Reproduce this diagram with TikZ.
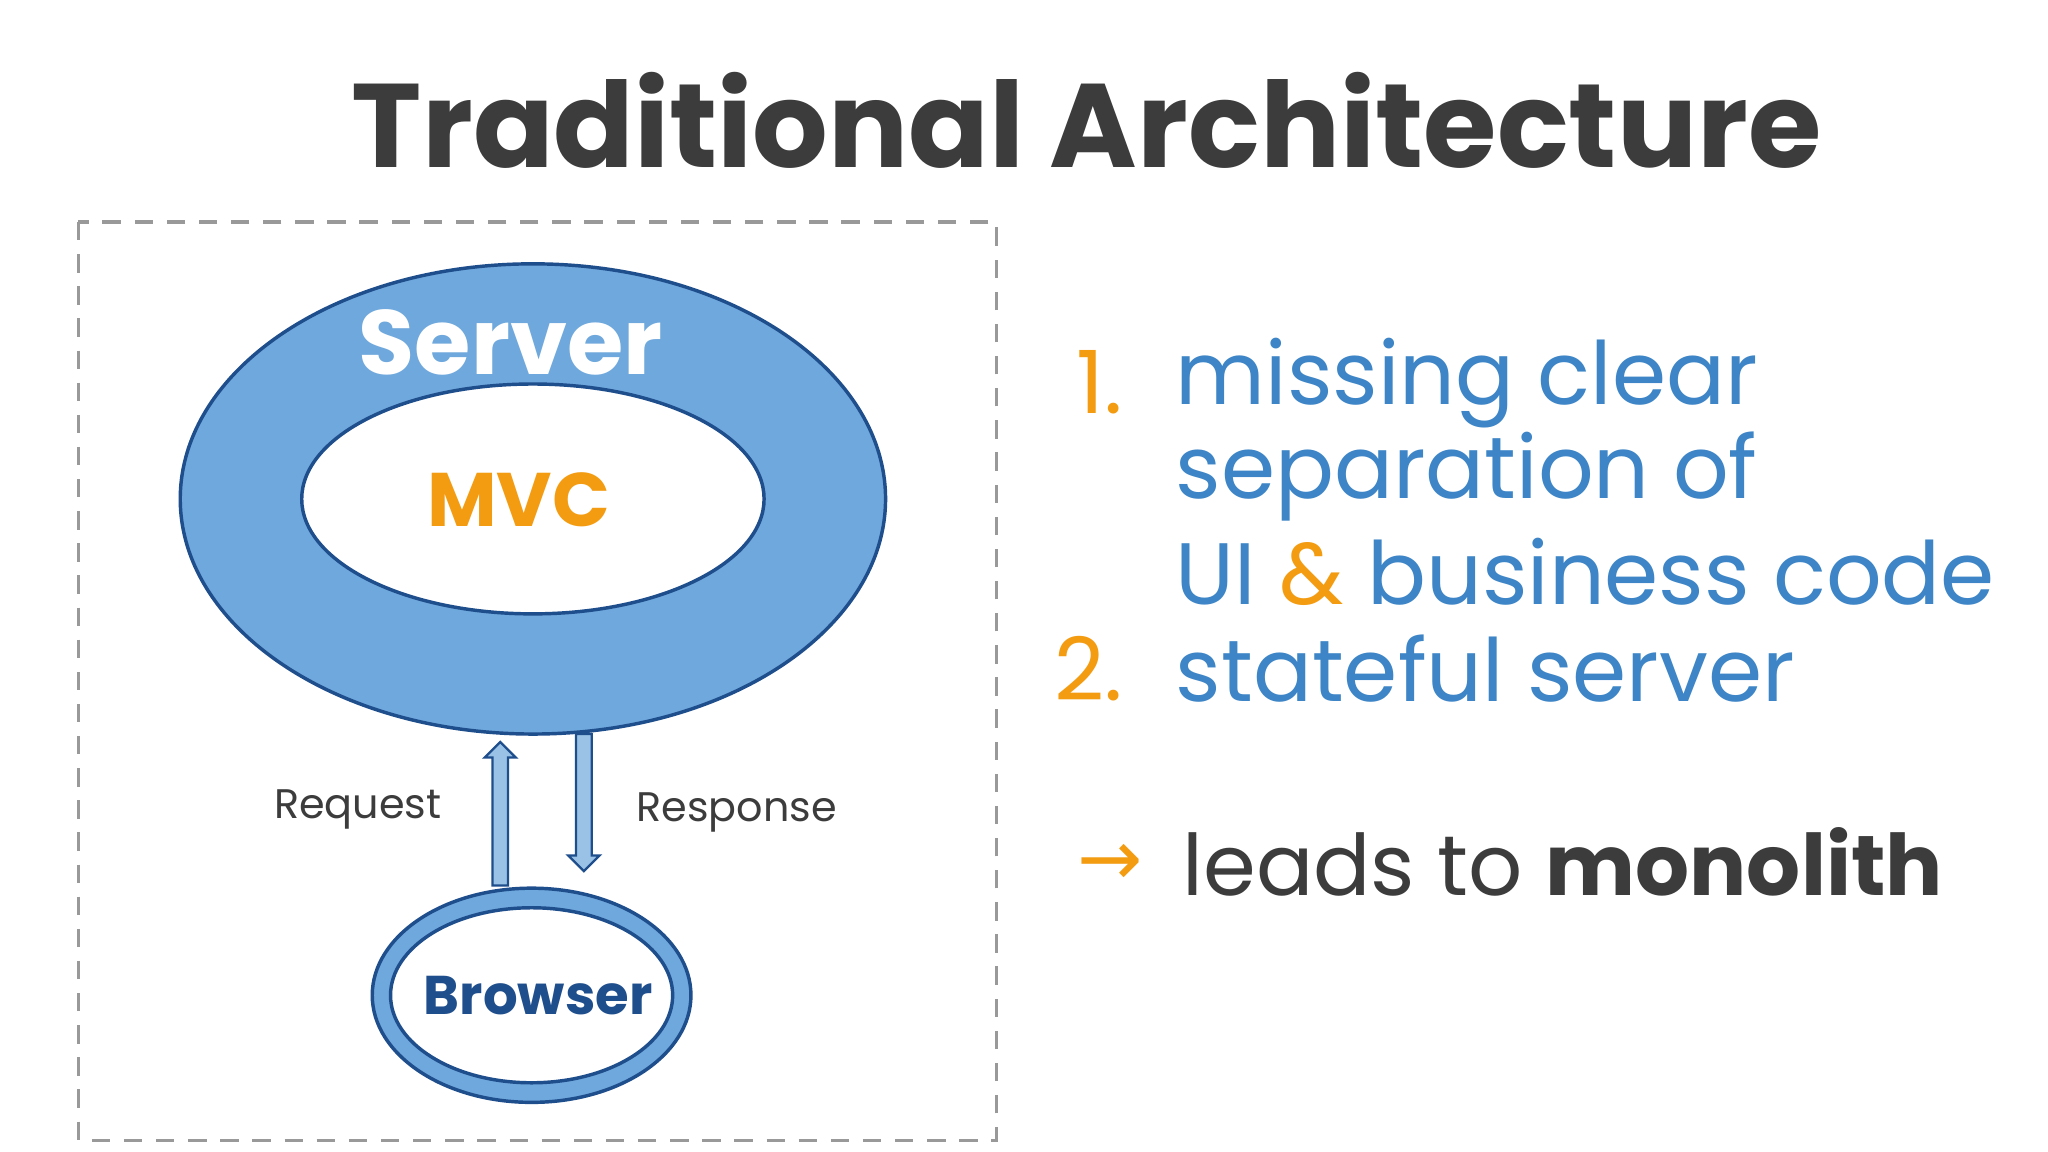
\documentclass[tikz,border=0pt]{standalone}
\usepackage{fontspec}
\setmainfont{Poppins}
\newfontfamily\symf{DejaVu Sans}
\definecolor{fillb}{HTML}{6FA8DC}
\definecolor{edgeb}{HTML}{1F4E8C}
\definecolor{txtb}{HTML}{3D85C6}
\definecolor{orng}{HTML}{F39C12}
\definecolor{dark}{HTML}{3C3C3C}
\tikzset{
  ring/.style={draw=edgeb,line width=1.5pt,fill=fillb},
  hole/.style={draw=edgeb,line width=1.5pt,fill=white},
  arr/.style={draw=edgeb,line width=1pt,fill=fillb!70},
  bt/.style={text=txtb,anchor=west,font=\fontsize{38}{44}\selectfont,inner sep=0pt},
  num/.style={text=orng,anchor=east,font=\fontsize{38}{44}\selectfont,inner sep=0pt},
}
\begin{document}
\begin{tikzpicture}[x=0.02cm,y=-0.02cm]
\useasboundingbox[fill=white] (0,0) rectangle (1568,882);
\node[text=dark,font=\bfseries] (title) at (832,92) {\resizebox{22.5cm}{!}{Traditional Architecture}};
\draw[gray!80,line width=1.5pt,dash pattern=on 8pt off 6pt] (60,170) rectangle (763,873);
\draw[ring] (408,382) ellipse [x radius=270,y radius=180];
\draw[hole] (408,382) ellipse [x radius=177,y radius=88];
\node[text=white,font=\bfseries] (server) at (391,262) {\resizebox{4.65cm}{!}{Server}};
\node[text=orng,font=\bfseries] (mvc) at (397,383) {\resizebox{2.8cm}{!}{MVC}};
% arrows
\draw[arr] (377,678) -- (377,580) -- (371,580) -- (383,568) -- (395,580) -- (389,580) -- (389,678) -- cycle;
\draw[arr] (441,562) -- (441,655) -- (435,655) -- (447,667) -- (459,655) -- (453,655) -- (453,562) -- cycle;
\node[text=dark,font=\fontsize{18}{20}\selectfont] (req) at (274,620) {Request};
\node[text=dark,font=\fontsize{18}{20}\selectfont] (resp) at (564,622) {Response};
\draw[ring] (407,762) ellipse [x radius=122,y radius=82];
\draw[hole] (407,762) ellipse [x radius=108,y radius=67];
\node[text=edgeb,font=\bfseries] (browser) at (412,762) {\resizebox{3.5cm}{!}{Browser}};
% right text
\node[num] (n1) at (860,293) {1.};
\node[bt] (l1) at (900,293) {missing clear};
\node[bt] (l2) at (900,365) {separation of};
\node[bt] (l3) at (900,438) {UI \textcolor{orng}{\&} business code};
\node[num] (n2) at (860,512) {2.};
\node[bt] (l4) at (900,512) {stateful server};
\node[text=orng,font=\symf\fontsize{34}{40}\selectfont] (ar) at (850,662) {→};
\node[anchor=west,inner sep=0pt,text=dark,font=\fontsize{37}{44}\selectfont] (l5) at (905,660) {leads to \textbf{monolith}};
\end{tikzpicture}
\end{document}
